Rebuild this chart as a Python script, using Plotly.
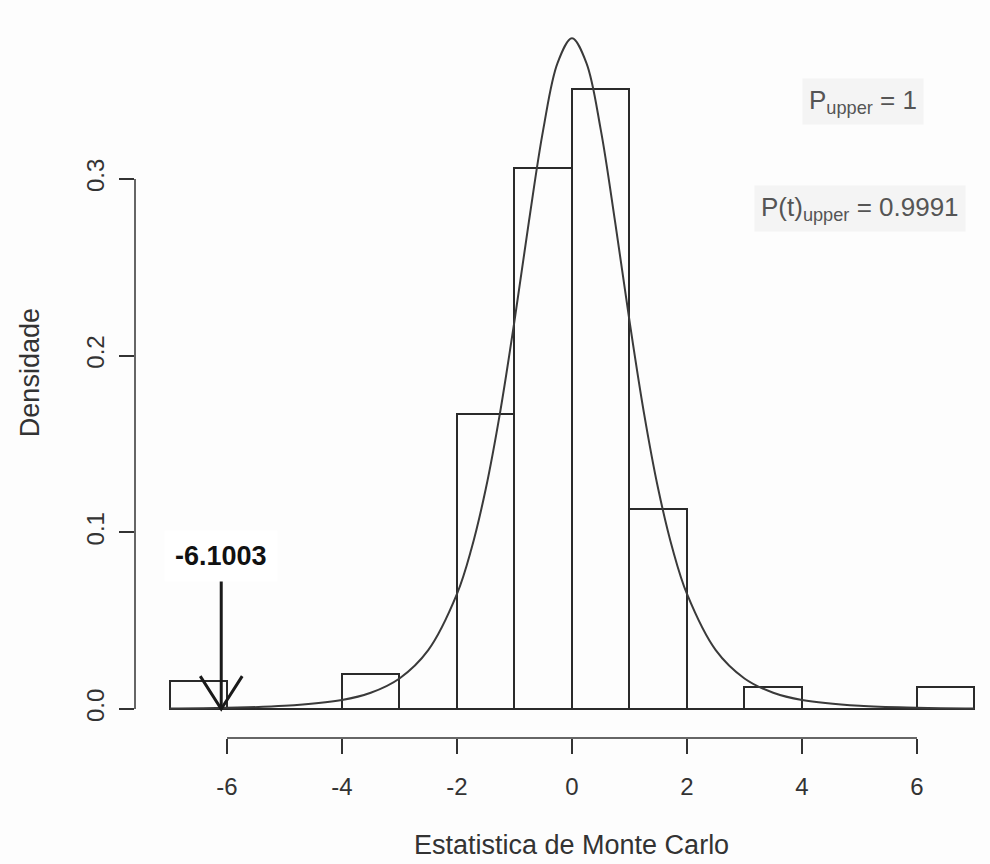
import plotly.graph_objects as go

# ---- data ----
bin_edges = [-7, -6, -5, -4, -3, -2, -1, 0, 1, 2, 3, 4, 5, 6, 7]
density = [0.016, 0.0, 0.0, 0.020, 0.0, 0.167, 0.306, 0.351, 0.113, 0.0, 0.0125, 0.0, 0.0, 0.0125]

curve_x = [-7, -6, -5, -4, -3.5, -3, -2.5, -2, -1.75, -1.5, -1.25, -1, -0.75, -0.5, -0.25, 0,
           0.25, 0.5, 0.75, 1, 1.25, 1.5, 1.75, 2, 2.5, 3, 3.5, 4, 5, 6, 7]
curve_y = [0.0003, 0.0007, 0.0018, 0.0051, 0.0092, 0.0173, 0.0333, 0.0651, 0.0905, 0.1245, 0.1679,
           0.2197, 0.2757, 0.3279, 0.3657, 0.3796,
           0.3657, 0.3279, 0.2757, 0.2197, 0.1679, 0.1245, 0.0905, 0.0651, 0.0333, 0.0173, 0.0092,
           0.0051, 0.0018, 0.0007, 0.0003]

x_ticks = [-6, -4, -2, 0, 2, 4, 6]
x_ticklabels = ["-6", "-4", "-2", "0", "2", "4", "6"]
y_ticks = [0.0, 0.1, 0.2, 0.3]
y_ticklabels = ["0.0", "0.1", "0.2", "0.3"]

observed_stat = -6.1003
p_upper = "1"
pt_upper = "0.9991"

# ---- figure ----
centers = [(a + b) / 2 for a, b in zip(bin_edges[:-1], bin_edges[1:])]
widths = [b - a for a, b in zip(bin_edges[:-1], bin_edges[1:])]

FONT = "Liberation Sans, Arial, sans-serif"
INK = "#2a2a2a"

fig = go.Figure()
fig.add_trace(go.Bar(
    x=centers, y=density, width=widths,
    marker=dict(color="rgba(0,0,0,0)", line=dict(color=INK, width=2)),
    hoverinfo="skip", showlegend=False,
))
# zero-height bins are drawn as a baseline, as R's hist does
fig.add_trace(go.Scatter(
    x=[bin_edges[0], bin_edges[-1]], y=[0, 0], mode="lines",
    line=dict(color=INK, width=2), hoverinfo="skip", showlegend=False,
))
fig.add_trace(go.Scatter(
    x=curve_x, y=curve_y, mode="lines", line=dict(color="#3a3a3a", width=2, shape="spline"),
    hoverinfo="skip", showlegend=False,
))

shapes = [
    # R-style axis lines spanning first to last tick
    dict(type="line", xref="x", yref="paper", x0=x_ticks[0], x1=x_ticks[-1], y0=0, y1=0,
         line=dict(color="#333", width=1.5)),
    dict(type="line", xref="paper", yref="y", x0=0, x1=0, y0=y_ticks[0], y1=y_ticks[-1],
         line=dict(color="#333", width=1.5)),
    # arrow to observed statistic
    dict(type="line", xref="x", yref="y", x0=observed_stat, x1=observed_stat, y0=0.073, y1=0,
         line=dict(color="#1a1a1a", width=3)),
    dict(type="path", xref="x", yref="y",
         path=f"M {observed_stat - 0.365},0.0186 L {observed_stat},0 L {observed_stat + 0.365},0.0186",
         line=dict(color="#1a1a1a", width=3)),
]

annotations = [
    dict(text="Estatistica de Monte Carlo", xref="x", yref="paper", x=0, y=-0.147,
         showarrow=False, font=dict(family=FONT, size=27, color="#333"),
         xanchor="center", yanchor="middle"),
    dict(text="Densidade", xref="paper", yref="paper", x=-0.123, y=0.503, textangle=-90,
         showarrow=False, font=dict(family=FONT, size=27, color="#333"),
         xanchor="center", yanchor="middle"),
    dict(text=f"<b>{observed_stat}</b>", xref="x", yref="y", x=observed_stat, y=0.0864,
         showarrow=False, font=dict(family=FONT, size=27, color="#111"),
         bgcolor="#ffffff", borderpad=10, xanchor="center", yanchor="middle"),
    dict(text=f"P<sub>upper</sub> = {p_upper}", xref="paper", yref="paper", x=0.851, y=0.876,
         showarrow=False, font=dict(family=FONT, size=26, color="#555"), bgcolor="#f4f4f4",
         borderpad=6, xanchor="center", yanchor="middle"),
    dict(text=f"P(t)<sub>upper</sub> = {pt_upper}", xref="paper", yref="paper", x=0.848, y=0.729,
         showarrow=False, font=dict(family=FONT, size=26, color="#555"), bgcolor="#f4f4f4",
         borderpad=6, xanchor="center", yanchor="middle"),
]

fig.update_layout(
    width=990, height=864,
    margin=dict(l=135, r=0, t=11, b=126),
    paper_bgcolor="#fdfdfd", plot_bgcolor="#fdfdfd",
    font=dict(family=FONT, color="#333"),
    bargap=0, shapes=shapes, annotations=annotations,
    xaxis=dict(range=[-7.6, 7.27], tickvals=x_ticks, ticktext=x_ticklabels, ticks="outside",
               ticklen=15, tickwidth=1.5, tickcolor="#333", showline=False, showgrid=False,
               zeroline=False, tickfont=dict(family=FONT, size=24, color="#333"),
               ticklabelstandoff=12),
    yaxis=dict(range=[-0.0164, 0.3950], tickvals=y_ticks, ticktext=y_ticklabels, tickangle=-90,
               ticks="outside", ticklen=15, tickwidth=1.5, tickcolor="#333", showline=False,
               showgrid=False, zeroline=False, tickfont=dict(family=FONT, size=24, color="#333"),
               ticklabelstandoff=5),
)

fig.write_html("out.html")
